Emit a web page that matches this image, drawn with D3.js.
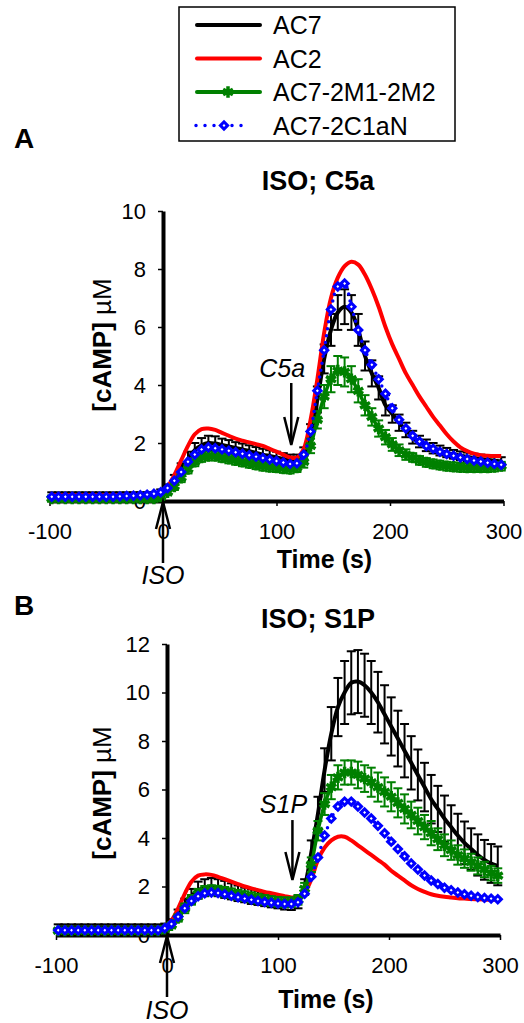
<!DOCTYPE html>
<html>
<head>
<meta charset="utf-8">
<script src="https://cdn.jsdelivr.net/npm/d3@7"></script>
<style>
  body { margin: 0; background: #fff; }
  text { font-family: "Liberation Sans", Arial, sans-serif; }
</style>
</head>
<body>
<script>
// sampling times (s), same for both panels
const time = [-98, -92, -86, -80, -74, -68, -62, -56, -50, -44, -38, -32, -26, -20, -14, -8, -2,
  4, 10, 16, 22, 28, 34, 40, 46, 52, 58,
  64, 70, 76, 82, 88, 94, 100, 106, 112, 118,
  124, 130, 136, 142, 148, 154, 160, 166, 172, 178,
  184, 190, 196, 202, 208, 214, 220, 226, 232, 238,
  244, 250, 256, 262, 268, 274, 280, 286, 292, 298];

const seriesNames = ['AC7', 'AC2', 'AC7-2M1-2M2', 'AC7-2C1aN'];
const xTicks = [-100, 0, 100, 200, 300];
const yTicksA = [0, 2, 4, 6, 8, 10];
const yTicksB = [0, 2, 4, 6, 8, 10, 12];

// ---- panel A: ISO; C5a ----
const ac7A = [0.2, 0.2, 0.2, 0.2, 0.2, 0.2, 0.2, 0.2, 0.2, 0.2, 0.2, 0.2, 0.2, 0.2, 0.2, 0.2, 0.3,
  0.45, 0.75, 1.1, 1.45, 1.75, 1.92, 2.0, 1.98, 1.93, 1.88,
  1.83, 1.78, 1.72, 1.66, 1.6, 1.55, 1.5, 1.45, 1.4, 1.4,
  1.6, 2.3, 3.5, 4.9, 5.9, 6.5, 6.7, 6.5, 5.9, 5.0,
  4.4, 3.9, 3.3, 3.0, 2.7, 2.45, 2.2, 2.05, 1.92, 1.82,
  1.74, 1.67, 1.61, 1.56, 1.52, 1.48, 1.45, 1.42, 1.39, 1.36];
const ac7ErrA = [0.1, 0.1, 0.1, 0.1, 0.1, 0.1, 0.1, 0.1, 0.1, 0.1, 0.1, 0.1, 0.1, 0.1, 0.1, 0.1, 0.1,
  0.12, 0.15, 0.2, 0.25, 0.25, 0.25, 0.25, 0.25, 0.22, 0.22,
  0.2, 0.2, 0.2, 0.2, 0.2, 0.2, 0.2, 0.2, 0.2, 0.2,
  0.25, 0.35, 0.45, 0.5, 0.55, 0.6, 0.6, 0.6, 0.55, 0.5,
  0.45, 0.4, 0.35, 0.3, 0.28, 0.25, 0.22, 0.2, 0.2, 0.18,
  0.17, 0.16, 0.15, 0.15, 0.15, 0.15, 0.15, 0.15, 0.15, 0.15];
const ac2A = [0.2, 0.2, 0.2, 0.2, 0.2, 0.2, 0.2, 0.2, 0.2, 0.2, 0.2, 0.2, 0.2, 0.2, 0.2, 0.2, 0.3,
  0.5, 0.9, 1.4, 1.9, 2.3, 2.48, 2.5, 2.45, 2.35, 2.25,
  2.15, 2.08, 2.02, 1.96, 1.9, 1.8, 1.7, 1.6, 1.5, 1.5,
  1.8, 2.8, 4.2, 5.8, 7.0, 7.7, 8.1, 8.25, 8.15, 7.8,
  7.3, 6.7, 6.0, 5.4, 4.9, 4.4, 4.0, 3.6, 3.25, 2.9,
  2.6, 2.3, 2.05, 1.85, 1.72, 1.63, 1.58, 1.56, 1.55, 1.55];
const m12A = [0.08, 0.08, 0.08, 0.08, 0.08, 0.08, 0.08, 0.08, 0.08, 0.08, 0.08, 0.08, 0.08, 0.08, 0.08, 0.08, 0.15,
  0.3, 0.5, 0.8, 1.1, 1.35, 1.5, 1.55, 1.55, 1.5, 1.45,
  1.4, 1.35, 1.3, 1.25, 1.2, 1.17, 1.15, 1.12, 1.1, 1.15,
  1.35, 1.9, 2.8, 3.6, 4.2, 4.5, 4.45, 4.2, 3.8, 3.3,
  2.9, 2.5, 2.2, 1.95, 1.75, 1.6, 1.5, 1.4, 1.33, 1.28,
  1.24, 1.2, 1.18, 1.16, 1.15, 1.15, 1.15, 1.15, 1.17, 1.2];
const m12ErrA = [0.1, 0.1, 0.1, 0.1, 0.1, 0.1, 0.1, 0.1, 0.1, 0.1, 0.1, 0.1, 0.1, 0.1, 0.1, 0.1, 0.1,
  0.1, 0.12, 0.15, 0.15, 0.15, 0.15, 0.15, 0.15, 0.15, 0.15,
  0.15, 0.15, 0.15, 0.15, 0.15, 0.15, 0.15, 0.15, 0.15, 0.15,
  0.2, 0.25, 0.3, 0.4, 0.45, 0.5, 0.5, 0.45, 0.4, 0.35,
  0.3, 0.28, 0.25, 0.22, 0.2, 0.18, 0.15, 0.15, 0.15, 0.15,
  0.15, 0.15, 0.15, 0.15, 0.15, 0.15, 0.15, 0.15, 0.15, 0.15];
const c1aA = [0.15, 0.15, 0.15, 0.15, 0.15, 0.15, 0.15, 0.15, 0.15, 0.15, 0.16, 0.17, 0.18, 0.2, 0.22, 0.25, 0.3,
  0.45, 0.7, 1.0, 1.35, 1.6, 1.78, 1.85, 1.82, 1.78, 1.73,
  1.68, 1.63, 1.58, 1.53, 1.48, 1.43, 1.38, 1.33, 1.28, 1.3,
  1.6, 2.4, 3.8, 5.2, 6.6, 7.4, 7.5, 6.7, 5.9, 5.2,
  4.7, 4.2, 3.7, 3.2, 2.8, 2.5, 2.25, 2.05, 1.9, 1.8,
  1.7, 1.62, 1.56, 1.5, 1.45, 1.4, 1.36, 1.32, 1.28, 1.25];

// ---- panel B: ISO; S1P ----
const ac7B = [0.32, 0.32, 0.32, 0.32, 0.32, 0.32, 0.32, 0.32, 0.32, 0.32, 0.32, 0.32, 0.32, 0.32, 0.32, 0.32, 0.35,
  0.5, 0.85, 1.25, 1.6, 1.85, 1.95, 2.0, 1.95, 1.88, 1.8,
  1.72, 1.65, 1.58, 1.52, 1.46, 1.4, 1.35, 1.3, 1.28, 1.35,
  2.0, 3.4, 5.0, 6.8, 8.3, 9.4, 10.0, 10.4, 10.45, 10.3,
  10.0, 9.6, 9.1, 8.6, 8.1, 7.6, 7.1, 6.6, 6.1, 5.6,
  5.2, 4.8, 4.45, 4.1, 3.8, 3.55, 3.3, 3.1, 2.95, 2.85];
const ac7ErrB = [0.12, 0.12, 0.12, 0.12, 0.12, 0.12, 0.12, 0.12, 0.12, 0.12, 0.12, 0.12, 0.12, 0.12, 0.12, 0.12, 0.12,
  0.15, 0.2, 0.25, 0.3, 0.35, 0.35, 0.35, 0.35, 0.35, 0.33,
  0.32, 0.3, 0.3, 0.28, 0.27, 0.26, 0.25, 0.25, 0.25, 0.25,
  0.3, 0.5, 0.7, 0.9, 1.1, 1.2, 1.3, 1.3, 1.3, 1.3,
  1.3, 1.25, 1.2, 1.2, 1.15, 1.1, 1.1, 1.05, 1.0, 1.0,
  0.95, 0.95, 0.9, 0.9, 0.88, 0.85, 0.85, 0.82, 0.8, 0.8];
const ac2B = [0.25, 0.25, 0.25, 0.25, 0.25, 0.25, 0.25, 0.25, 0.25, 0.25, 0.25, 0.25, 0.25, 0.25, 0.25, 0.25, 0.35,
  0.6, 1.1, 1.7, 2.2, 2.45, 2.5, 2.48, 2.4, 2.3, 2.2,
  2.1, 2.0, 1.92, 1.85, 1.78, 1.72, 1.66, 1.6, 1.55, 1.55,
  1.75, 2.3, 3.1, 3.6, 3.9, 4.05, 4.05, 3.9, 3.7, 3.5,
  3.3, 3.1, 2.9, 2.65, 2.45, 2.25, 2.05, 1.9, 1.78, 1.68,
  1.62, 1.58, 1.55, 1.52, 1.5, 1.48, 1.47, 1.46, 1.45, 1.45];
const m12B = [0.18, 0.18, 0.18, 0.18, 0.18, 0.18, 0.18, 0.18, 0.18, 0.18, 0.18, 0.18, 0.18, 0.18, 0.18, 0.18, 0.25,
  0.4, 0.7, 1.1, 1.45, 1.7, 1.82, 1.85, 1.83, 1.78, 1.72,
  1.66, 1.6, 1.55, 1.5, 1.45, 1.4, 1.37, 1.35, 1.35, 1.45,
  1.9, 2.9, 4.3, 5.4, 6.1, 6.5, 6.7, 6.7, 6.6, 6.45,
  6.3, 6.1, 5.9, 5.7, 5.45, 5.2, 4.95, 4.7, 4.45, 4.2,
  3.95, 3.7, 3.5, 3.3, 3.15, 3.0, 2.85, 2.7, 2.55, 2.45];
const m12ErrB = [0.1, 0.1, 0.1, 0.1, 0.1, 0.1, 0.1, 0.1, 0.1, 0.1, 0.1, 0.1, 0.1, 0.1, 0.1, 0.1, 0.1,
  0.12, 0.15, 0.2, 0.2, 0.2, 0.2, 0.2, 0.2, 0.2, 0.2,
  0.2, 0.2, 0.2, 0.2, 0.2, 0.2, 0.2, 0.2, 0.2, 0.2,
  0.25, 0.3, 0.4, 0.45, 0.5, 0.5, 0.5, 0.5, 0.55, 0.55,
  0.6, 0.6, 0.6, 0.6, 0.6, 0.6, 0.55, 0.55, 0.5, 0.5,
  0.45, 0.45, 0.4, 0.4, 0.38, 0.35, 0.35, 0.32, 0.3, 0.3];
const c1aB = [0.2, 0.2, 0.2, 0.2, 0.2, 0.2, 0.2, 0.2, 0.2, 0.2, 0.2, 0.2, 0.2, 0.2, 0.2, 0.2, 0.28,
  0.45, 0.75, 1.1, 1.4, 1.6, 1.72, 1.75, 1.73, 1.68, 1.62,
  1.56, 1.5, 1.45, 1.4, 1.36, 1.33, 1.3, 1.28, 1.28, 1.35,
  1.7, 2.4, 3.2, 4.1, 4.8, 5.3, 5.5, 5.5, 5.3, 5.05,
  4.8, 4.5, 4.2, 3.85, 3.55, 3.25, 2.95, 2.7, 2.45, 2.25,
  2.1, 1.95, 1.85, 1.75, 1.68, 1.62, 1.57, 1.53, 1.5, 1.47];

const colors = { ac7: '#000000', ac2: '#ff0000', m12: '#008000', c1a: '#0000ff' };

const svg = d3.select('body').append('svg')
  .attr('width', 524)
  .attr('height', 1023)

// panel layout (pixel frames + label positions); stimulus time = 113 s
const panels = [
  { letter: 'A', title: 'ISO; C5a', stim: 'C5a', xr: [49.5, 503.5], yr: [501, 211], ymax: 10, yTicks: yTicksA,
    ac7: ac7A, ac7Err: ac7ErrA, ac2: ac2A, m12: m12A, m12Err: m12ErrA, c1a: c1aA,
    letterY: 148, titleY: 190, labelY: 345, xLabelY: 568, isoY: 584, stimY: 377, arrowTop: 4.07, arrowTip: 1.93 },
  { letter: 'B', title: 'ISO; S1P', stim: 'S1P', xr: [56, 500], yr: [935, 644], ymax: 12, yTicks: yTicksB,
    ac7: ac7B, ac7Err: ac7ErrB, ac2: ac2B, m12: m12B, m12Err: m12ErrB, c1a: c1aB,
    letterY: 615, titleY: 628, labelY: 793, xLabelY: 1008, isoY: 1019, stimY: 813, arrowTop: 4.74, arrowTip: 2.27 }
];

const stimTime = 113;

const drawErrors = (g, x, y, vals, errs, color) => {
  const eb = g.append('g').attr('stroke', color).attr('stroke-width', 2).attr('fill', 'none');
  time.forEach((t, i) => {
    const lo = y(vals[i] - errs[i]), hi = y(vals[i] + errs[i]), cx = x(t);
    eb.append('line').attr('x1', cx).attr('x2', cx).attr('y1', lo).attr('y2', hi);
    eb.append('line').attr('x1', cx - 4.5).attr('x2', cx + 4.5).attr('y1', lo).attr('y2', lo);
    eb.append('line').attr('x1', cx - 4.5).attr('x2', cx + 4.5).attr('y1', hi).attr('y2', hi);
  });
};

panels.forEach((p) => {
  const x = d3.scaleLinear().domain([-100, 300]).range(p.xr);
  const y = d3.scaleLinear().domain([0, p.ymax]).range(p.yr);
  const g = svg.append('g');

  // axes
  const xAxis = g.append('g')
    .attr('transform', 'translate(0,' + y(0) + ')')
    .call(d3.axisBottom(x).tickValues(xTicks).tickFormat((d) => String(d))
      .tickSize(5).tickSizeOuter(0).tickPadding(17));
  const yAxis = g.append('g')
    .attr('transform', 'translate(' + x(0) + ',0)')
    .call(d3.axisLeft(y).tickValues(p.yTicks).tickFormat((d) => String(d))
      .tickSize(5).tickSizeOuter(0).tickPadding(12));
  [xAxis, yAxis].forEach((a) => {
    a.attr('font-family', null).attr('font-size', null);
    a.select('.domain').attr('stroke-width', 4);
    a.selectAll('.tick line').attr('stroke-width', 1.5);
    a.selectAll('.tick text').style('font-size', '22px').attr('fill', '#000');
  });

  const line = d3.line().x((d, i) => x(time[i])).y((d) => y(d)).curve(d3.curveCatmullRom);

  // AC7
  drawErrors(g, x, y, p.ac7, p.ac7Err, colors.ac7);
  g.append('path').datum(p.ac7).attr('d', line)
    .attr('fill', 'none').attr('stroke', colors.ac7).attr('stroke-width', 4);

  // AC2
  g.append('path').datum(p.ac2).attr('d', line)
    .attr('fill', 'none').attr('stroke', colors.ac2).attr('stroke-width', 4);

  // AC7-2M1-2M2
  drawErrors(g, x, y, p.m12, p.m12Err, colors.m12);
  g.append('path').datum(p.m12).attr('d', line)
    .attr('fill', 'none').attr('stroke', colors.m12).attr('stroke-width', 3.5);
  g.append('g').selectAll('path').data(p.m12).enter().append('path')
    .attr('d', d3.symbol().type(d3.symbolAsterisk).size(90))
    .attr('transform', (d, i) => 'translate(' + x(time[i]) + ',' + y(d) + ')')
    .attr('fill', 'none').attr('stroke', colors.m12).attr('stroke-width', 3.5);

  // AC7-2C1aN
  g.append('path').datum(p.c1a).attr('d', line)
    .attr('fill', 'none').attr('stroke', colors.c1a).attr('stroke-width', 3.5)
    .attr('stroke-dasharray', '0 7').attr('stroke-linecap', 'round');
  g.append('g').selectAll('path').data(p.c1a).enter().append('path')
    .attr('d', d3.symbol().type(d3.symbolSquare).size(26))
    .attr('transform', (d, i) => 'translate(' + x(time[i]) + ',' + y(d) + ') rotate(45)')
    .attr('fill', '#fff').attr('stroke', colors.c1a).attr('stroke-width', 3);

  // ISO arrow (upward, at t = 0)
  const ax = x(0), ay = y(0);
  g.append('line').attr('x1', ax).attr('x2', ax).attr('y1', ay + 62).attr('y2', ay + 1)
    .attr('stroke', '#000').attr('stroke-width', 2.5);
  g.append('polyline').attr('points', [[ax - 7, ay + 28], [ax, ay + 1], [ax + 7, ay + 28]].join(' '))
    .attr('fill', 'none').attr('stroke', '#000').attr('stroke-width', 2.5);
  g.append('text').attr('x', ax).attr('y', p.isoY).attr('text-anchor', 'middle')
    .style('font-size', '25px').style('font-style', 'italic').text('ISO');

  // stimulus arrow (downward)
  const sx = x(stimTime), st = y(p.arrowTop), sp = y(p.arrowTip);
  g.append('line').attr('x1', sx).attr('x2', sx).attr('y1', st).attr('y2', sp - 1)
    .attr('stroke', '#000').attr('stroke-width', 2.5);
  g.append('polyline').attr('points', [[sx - 7, sp - 28], [sx, sp], [sx + 7, sp - 28]].join(' '))
    .attr('fill', 'none').attr('stroke', '#000').attr('stroke-width', 2.5);
  g.append('text').attr('x', sx - 9).attr('y', p.stimY).attr('text-anchor', 'middle')
    .style('font-size', '25px').style('font-style', 'italic').text(p.stim);

  // titles and labels
  g.append('text').attr('x', 14).attr('y', p.letterY)
    .style('font-size', '28px').style('font-weight', 'bold').text(p.letter);
  g.append('text').attr('x', 318).attr('y', p.titleY).attr('text-anchor', 'middle')
    .style('font-size', '27px').style('font-weight', 'bold').text(p.title);
  g.append('text').attr('x', (p.xr[0] + p.xr[1]) / 2 + 48).attr('y', p.xLabelY).attr('text-anchor', 'middle')
    .style('font-size', '25px').style('font-weight', 'bold').text('Time (s)');
  const yl = g.append('text')
    .attr('transform', 'translate(111,' + p.labelY + ') rotate(-90)')
    .attr('text-anchor', 'middle').style('font-size', '26px');
  yl.append('tspan').style('font-weight', 'bold').text('[cAMP] ');
  yl.append('tspan').text('\u00b5M');
});

// legend
const legend = svg.append('g');
legend.append('rect').attr('x', 179).attr('y', 7).attr('width', 276).attr('height', 134)
  .attr('fill', '#fff').attr('stroke', '#000').attr('stroke-width', 1.5);
const legendKeys = ['ac7', 'ac2', 'm12', 'c1a'];
seriesNames.forEach((name, i) => {
  const ly = 25 + i * 33.5;
  const key = legendKeys[i];
  const row = legend.append('g');
  const ln = row.append('line').attr('x1', 197).attr('x2', 260).attr('y1', ly).attr('y2', ly)
    .attr('stroke', colors[key]).attr('stroke-width', key === 'c1a' ? 3.5 : 4).attr('stroke-linecap', 'round');
  if (key === 'c1a') ln.attr('x1', 196).attr('x2', 250).attr('stroke-dasharray', '0 9');
  if (key === 'm12') {
    row.append('path').attr('d', d3.symbol().type(d3.symbolAsterisk).size(90))
      .attr('transform', 'translate(228,' + ly + ')')
      .attr('fill', 'none').attr('stroke', colors.m12).attr('stroke-width', 3.5);
  }
  if (key === 'c1a') {
    row.append('path').attr('d', d3.symbol().type(d3.symbolSquare).size(26))
      .attr('transform', 'translate(224,' + ly + ') rotate(45)')
      .attr('fill', '#fff').attr('stroke', colors.c1a).attr('stroke-width', 3);
  }
  row.append('text').attr('x', 273).attr('y', ly + 9)
    .style('font-size', '25px').text(name);
});
</script>
</body>
</html>
